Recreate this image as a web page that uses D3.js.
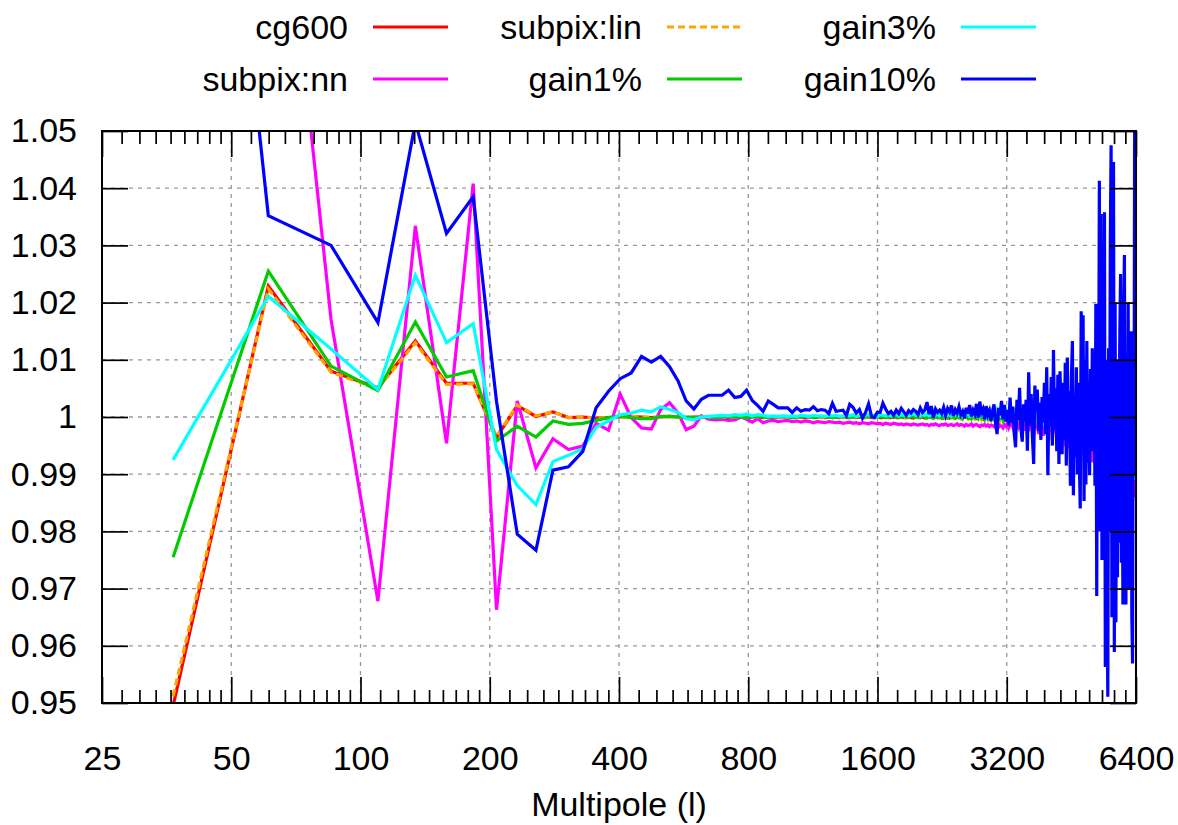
<!DOCTYPE html>
<html>
<head>
<meta charset="utf-8">
<script src="https://cdn.jsdelivr.net/npm/d3@7"></script>
<style>
  body { margin: 0; background: #fff; }
  text { font-family: "Liberation Sans", Arial, sans-serif; font-size: 34px; fill: #000; }
</style>
</head>
<body>
<script>
// multipole bins: centres start at 36.6, width 24.4
var ellStart = 36.6, ellStep = 24.4, nBins = 262;

var xTicks = [25, 50, 100, 200, 400, 800, 1600, 3200, 6400];
var yTicks = [0.95, 0.96, 0.97, 0.98, 0.99, 1.00, 1.01, 1.02, 1.03, 1.04, 1.05];

var names = ["cg600", "subpix:nn", "subpix:lin", "gain1%", "gain3%", "gain10%"];

var cg600 = [
  0.9495,1.0229,1.0080,1.0051,1.0133,1.0059,1.0059,0.9964,1.0020,1.0001,
  1.0009,0.9999,1.0000,0.9998,0.9999,1.0000,1.0001,1.0000,0.9999,1.0000,
  1.0001,1.0000,0.9999,1.0000,1.0000,0.9999,1.0000,1.0000,0.9999,1.0000,
  1.0000,0.9999,1.0000,1.0000,0.9999,1.0000,0.9999,1.0000,1.0000,0.9999,
  1.0000,0.9999,1.0000,0.9999,1.0000,1.0000,0.9999,1.0000,0.9999,1.0000,
  0.9999,1.0000,0.9999,1.0000,0.9999,0.9999,1.0000,0.9999,1.0000,0.9999,
  0.9999,1.0000,0.9999,0.9999,1.0000,0.9999,0.9999,1.0000,0.9999,0.9999,
  1.0000,0.9999,0.9999,1.0000,0.9999,0.9999,1.0000,0.9999,0.9998,1.0000,
  0.9999,0.9999,1.0000,0.9998,0.9999,1.0000,0.9999,0.9998,1.0000,0.9999,
  0.9999,1.0001,0.9998,0.9999,1.0000,0.9998,1.0001,0.9999,0.9998,1.0000,
  0.9999,1.0001,0.9998,1.0000,0.9999,1.0001,0.9998,1.0000,0.9999,1.0001,
  0.9998,1.0001,0.9999,1.0000,0.9997,1.0002,0.9999,1.0001,0.9998,1.0000,
  1.0002,0.9997,1.0001,0.9999,1.0002,0.9997,1.0001,0.9998,1.0003,0.9998,
  1.0001,0.9997,1.0003,0.9998,1.0002,0.9996,1.0004,0.9998,1.0002,0.9995,
  1.0003,0.9997,1.0005,0.9996,1.0002,0.9994,1.0005,0.9998,1.0003,0.9995,
  1.0006,0.9996,1.0003,0.9993,1.0007,0.9997,1.0004,0.9994,1.0006,0.9995,
  1.0008,0.9993,1.0004,0.9996,1.0009,0.9992,1.0005,0.9995,1.0010,0.9993,
  1.0006,0.9990,1.0011,0.9995,1.0007,0.9989,1.0012,0.9994,1.0008,0.9988,
  1.0014,0.9992,1.0009,0.9986,1.0015,0.9993,1.0010,0.9985,1.0017,0.9990,
  1.0012,0.9983,1.0019,0.9991,1.0014,0.9980,1.0021,0.9988,1.0015,0.9978,
  1.0024,0.9986,1.0017,0.9975,1.0026,0.9984,1.0019,0.9972,1.0029,0.9981,
  1.0022,0.9968,1.0032,0.9978,1.0025,0.9965,1.0035,0.9974,1.0028,0.9960,
  1.0038,0.9970,1.0031,0.9956,1.0042,0.9967,1.0034,0.9952,1.0045,0.9963,
  1.0037,0.9948,1.0049,0.9960,1.0040,0.9944,1.0052,0.9956,1.0044,0.9940,
  1.0056,0.9952,1.0047,0.9936,1.0060,0.9948,1.0051,0.9931,1.0064,0.9944,
  1.0055,0.9926,1.0068,0.9940,1.0058,0.9921,1.0072,0.9935,1.0062,0.9900,
  0.9860,0.9870
];

var subpixNN = [
  1.1000,1.1200,1.0170,0.9678,1.0334,0.9954,1.0408,0.9663,1.0028,0.9911,
  0.9962,0.9943,0.9949,0.9989,0.9977,1.0040,0.9999,0.9981,0.9979,1.0013,
  1.0025,1.0007,0.9978,0.9984,1.0002,0.9996,0.9995,0.9996,0.9994,0.9995,
  1.0000,0.9996,0.9991,0.9997,0.9990,0.9993,0.9994,0.9992,0.9993,0.9994,
  0.9992,0.9993,0.9991,0.9993,0.9992,0.9990,0.9992,0.9991,0.9990,0.9992,
  0.9991,0.9990,0.9991,0.9989,0.9990,0.9991,0.9989,0.9990,0.9988,0.9990,
  0.9989,0.9988,0.9990,0.9989,0.9988,0.9989,0.9987,0.9989,0.9988,0.9987,
  0.9989,0.9988,0.9987,0.9988,0.9986,0.9988,0.9987,0.9986,0.9988,0.9987,
  0.9986,0.9987,0.9988,0.9986,0.9987,0.9985,0.9987,0.9986,0.9988,0.9986,
  0.9985,0.9987,0.9986,0.9988,0.9985,0.9986,0.9987,0.9985,0.9986,0.9988,
  0.9985,0.9987,0.9986,0.9984,0.9987,0.9985,0.9986,0.9988,0.9984,0.9986,
  0.9987,0.9985,0.9983,0.9986,0.9985,0.9987,0.9984,0.9986,0.9983,0.9986,
  0.9985,0.9983,0.9987,0.9984,0.9982,0.9986,0.9984,0.9981,0.9987,0.9984,
  0.9988,0.9981,0.9986,0.9990,0.9982,0.9987,0.9979,0.9989,0.9983,0.9992,
  0.9980,0.9988,0.9976,0.9993,0.9983,0.9990,0.9975,0.9995,0.9981,0.9991,
  0.9972,0.9997,0.9980,0.9993,0.9970,1.0000,0.9978,0.9994,0.9967,1.0003,
  0.9976,0.9996,0.9964,1.0006,0.9974,0.9998,0.9960,1.0010,0.9972,0.9999,
  0.9957,1.0013,0.9970,1.0001,0.9953,1.0017,0.9967,1.0003,0.9949,1.0021,
  0.9965,1.0005,0.9945,1.0025,0.9962,1.0007,0.9941,1.0029,0.9960,1.0009,
  0.9937,1.0033,0.9957,1.0011,0.9933,1.0037,0.9955,1.0013,0.9929,1.0041,
  0.9952,1.0015,0.9925,1.0045,0.9950,1.0017,0.9921,1.0049,0.9947,1.0019,
  0.9917,1.0053,0.9945,1.0021,0.9913,1.0057,0.9942,1.0023,0.9909,1.0061,
  0.9940,1.0025,0.9905,1.0065,0.9937,1.0027,0.9901,1.0069,0.9935,1.0029,
  0.9897,1.0073,0.9932,1.0031,0.9893,1.0077,0.9930,1.0100,0.9889,1.0130,
  0.9927,1.0120,0.9885,1.0105,0.9925,1.0128,0.9881,1.0110,0.9922,1.0045,
  0.9877,1.0090,0.9920,1.0040,0.9873,1.0085,0.9917,1.0035,0.9869,0.9985,
  0.9870,0.9865
];

var subpixLin = [
  0.9512,1.0224,1.0078,1.0050,1.0130,1.0057,1.0058,0.9966,1.0021,1.0002,
  1.0009,0.9999,1.0000,0.9998,0.9999,1.0000,1.0001,1.0000,0.9999,1.0000,
  1.0001,1.0000,0.9999,1.0000,1.0000,0.9999,1.0000,1.0000,0.9999,1.0000,
  1.0000,0.9999,1.0000,1.0000,0.9999,1.0000,0.9999,1.0000,1.0000,0.9999,
  1.0000,0.9999,1.0000,1.0000,1.0000,0.9999,1.0000,0.9999,1.0000,1.0000,
  0.9999,1.0000,1.0000,0.9999,1.0000,0.9999,1.0000,1.0000,0.9999,1.0000,
  0.9999,1.0000,1.0000,0.9999,1.0000,0.9999,1.0000,0.9999,1.0000,1.0000,
  0.9999,1.0000,1.0001,0.9999,1.0000,0.9998,1.0001,0.9999,1.0000,1.0001,
  0.9999,1.0000,0.9998,1.0001,0.9999,1.0000,1.0002,0.9998,1.0000,1.0001,
  0.9998,1.0001,1.0000,0.9998,1.0002,0.9999,1.0000,0.9998,1.0002,0.9999,
  1.0001,0.9997,1.0002,0.9999,1.0001,0.9997,1.0003,0.9999,1.0000,0.9997,
  1.0003,0.9998,1.0002,0.9996,1.0003,0.9999,1.0002,0.9996,1.0004,0.9998,
  1.0001,0.9995,1.0004,0.9999,1.0002,0.9995,1.0005,0.9997,1.0003,0.9994,
  1.0006,0.9997,1.0003,0.9993,1.0006,0.9998,1.0004,0.9992,1.0007,0.9996,
  1.0004,0.9991,1.0008,0.9995,1.0005,0.9990,1.0009,0.9996,1.0006,0.9988,
  1.0011,0.9994,1.0007,0.9987,1.0012,0.9995,1.0008,0.9985,1.0014,0.9992,
  1.0009,0.9983,1.0016,0.9993,1.0011,0.9981,1.0018,0.9990,1.0013,0.9978,
  1.0021,0.9988,1.0015,0.9975,1.0023,0.9987,1.0017,0.9972,1.0026,0.9984,
  1.0019,0.9969,1.0029,0.9982,1.0022,0.9966,1.0032,0.9980,1.0024,0.9962,
  1.0035,0.9977,1.0027,0.9959,1.0038,0.9975,1.0030,0.9955,1.0041,0.9972,
  1.0033,0.9951,1.0044,0.9969,1.0036,0.9947,1.0048,0.9966,1.0039,0.9943,
  1.0051,0.9963,1.0042,0.9939,1.0055,0.9960,1.0045,0.9935,1.0058,0.9957,
  1.0048,0.9931,1.0062,0.9954,1.0051,0.9927,1.0065,0.9950,1.0054,0.9922,
  1.0069,0.9947,1.0057,0.9918,1.0072,0.9944,1.0060,0.9914,1.0076,0.9941,
  1.0063,0.9910,1.0079,0.9938,1.0066,0.9905,1.0083,0.9934,1.0069,0.9901,
  1.0086,0.9931,1.0072,0.9897,1.0090,0.9928,1.0075,0.9893,1.0093,0.9925,
  1.0078,0.9889
];

var gain1 = [
  0.9755,1.0255,1.0089,1.0046,1.0166,1.0070,1.0081,0.9958,0.9984,0.9965,
  0.9993,0.9987,0.9989,0.9994,0.9999,1.0002,0.9999,0.9997,0.9997,1.0001,
  1.0001,1.0000,1.0000,0.9999,1.0000,1.0000,0.9999,1.0000,1.0001,1.0000,
  1.0000,0.9999,1.0000,1.0001,1.0000,0.9999,1.0000,1.0000,1.0001,1.0000,
  0.9999,1.0000,1.0000,1.0001,1.0000,0.9999,1.0000,1.0001,1.0000,1.0000,
  0.9999,1.0000,1.0001,1.0000,1.0000,0.9999,1.0000,1.0001,1.0000,0.9999,
  1.0000,1.0001,1.0000,0.9999,1.0000,1.0001,1.0000,0.9999,1.0001,1.0000,
  0.9999,1.0001,1.0000,0.9999,1.0001,1.0000,0.9999,1.0002,1.0000,0.9999,
  1.0001,0.9999,1.0002,1.0000,0.9998,1.0001,1.0000,0.9998,1.0002,0.9999,
  1.0001,0.9998,1.0002,1.0000,0.9998,1.0002,0.9999,1.0001,0.9998,1.0003,
  0.9999,1.0001,0.9997,1.0003,1.0000,0.9998,1.0002,0.9997,1.0003,0.9999,
  1.0001,0.9997,1.0004,0.9999,1.0002,0.9996,1.0004,0.9998,1.0002,0.9996,
  1.0005,0.9998,1.0003,0.9995,1.0005,0.9999,1.0003,0.9995,1.0006,0.9998,
  1.0003,0.9994,1.0007,0.9997,1.0004,0.9993,1.0007,0.9997,1.0005,0.9992,
  1.0008,0.9996,1.0005,0.9991,1.0009,0.9996,1.0006,0.9990,1.0010,0.9995,
  1.0007,0.9989,1.0011,0.9994,1.0007,0.9988,1.0012,0.9993,1.0008,0.9986,
  1.0013,0.9992,1.0009,0.9985,1.0014,0.9991,1.0010,0.9984,1.0015,0.9990,
  1.0011,0.9982,1.0017,0.9989,1.0012,0.9981,1.0018,0.9988,1.0013,0.9979,
  1.0019,0.9987,1.0014,0.9978,1.0021,0.9986,1.0015,0.9976,1.0022,0.9985,
  1.0016,0.9975,1.0023,0.9984,1.0017,0.9973,1.0025,0.9983,1.0018,0.9972,
  1.0026,0.9982,1.0019,0.9970,1.0027,0.9981,1.0020,0.9969,1.0029,0.9980,
  1.0021,0.9967,1.0030,0.9979,1.0022,0.9966,1.0031,0.9978,1.0023,0.9964,
  1.0033,0.9977,1.0024,0.9963,1.0034,0.9976,1.0025,0.9961,1.0035,0.9975,
  1.0026,0.9960,1.0037,0.9974,1.0027,0.9958,1.0038,0.9973,1.0028,0.9957,
  1.0039,0.9972,1.0029,0.9955,1.0041,0.9971,1.0030,0.9954,1.0042,0.9970,
  1.0031,0.9952,1.0043,0.9969,1.0032,0.9951,1.0045,0.9968,1.0033,0.9949,
  1.0046,0.9967
];

var gain3 = [
  0.9925,1.0211,1.0119,1.0048,1.0248,1.0130,1.0163,0.9943,0.9880,0.9847,
  0.9922,0.9933,0.9945,0.9982,0.9993,1.0004,1.0007,1.0012,1.0009,1.0018,
  1.0013,1.0008,0.9997,0.9995,1.0000,1.0001,1.0002,1.0003,1.0002,1.0004,
  1.0003,1.0005,1.0002,1.0004,1.0003,1.0001,1.0002,1.0001,1.0002,1.0001,
  1.0002,1.0001,1.0003,1.0002,1.0001,1.0003,1.0002,1.0002,1.0001,1.0003,
  1.0002,1.0003,1.0001,1.0002,1.0003,1.0002,1.0004,1.0001,1.0003,1.0002,
  1.0003,1.0004,1.0002,1.0003,1.0001,1.0004,1.0003,1.0002,1.0004,1.0002,
  1.0003,1.0005,1.0002,1.0004,1.0003,1.0005,1.0002,1.0004,1.0006,1.0003,
  1.0004,1.0002,1.0005,1.0003,1.0006,1.0002,1.0004,1.0005,1.0003,1.0006,
  1.0002,1.0005,1.0004,1.0007,1.0003,1.0005,1.0002,1.0006,1.0004,1.0007,
  1.0003,1.0006,1.0002,1.0007,1.0004,1.0008,1.0002,1.0006,1.0003,1.0008,
  1.0004,1.0009,1.0002,1.0007,1.0003,1.0009,1.0001,1.0008,1.0004,1.0010,
  1.0002,1.0008,1.0000,1.0011,1.0003,1.0009,0.9999,1.0012,1.0002,1.0010,
  0.9998,1.0013,1.0001,1.0011,0.9996,1.0015,1.0000,1.0012,0.9995,1.0016,
  0.9998,1.0014,0.9993,1.0018,0.9997,1.0015,0.9991,1.0020,0.9995,1.0017,
  0.9989,1.0022,0.9994,1.0019,0.9986,1.0025,0.9992,1.0021,0.9984,1.0027,
  0.9990,1.0023,0.9981,1.0030,0.9988,1.0025,0.9978,1.0033,0.9986,1.0028,
  0.9975,1.0036,0.9983,1.0030,0.9972,1.0039,0.9981,1.0033,0.9968,1.0042,
  0.9978,1.0035,0.9965,1.0045,0.9975,1.0038,0.9961,1.0048,0.9972,1.0040,
  0.9957,1.0052,0.9969,1.0043,0.9953,1.0055,0.9966,1.0045,0.9949,1.0058,
  0.9963,1.0048,0.9945,1.0062,0.9960,1.0050,0.9941,1.0065,0.9957,1.0053,
  0.9937,1.0066,0.9954,1.0060,0.9933,1.0055,0.9951,1.0062,0.9929,1.0058,
  0.9948,1.0064,0.9925,1.0060,0.9945,1.0066,0.9921,1.0062,0.9942,1.0068,
  0.9917,1.0064,0.9939,1.0070,0.9913,1.0066,0.9936,1.0072,0.9909,1.0068,
  0.9933,1.0074,0.9905,1.0070,0.9930,1.0076,0.9901,1.0072,0.9927,1.0078,
  0.9897,1.0074,0.9924,1.0080,0.9893,1.0076,0.9921,1.0082,0.9889,1.0078,
  0.9918,1.0060
];

var gain10 = [
  1.1900,1.0352,1.0300,1.0165,1.0515,1.0321,1.0385,1.0027,0.9795,0.9767,
  0.9907,0.9913,0.9940,1.0016,1.0045,1.0067,1.0077,1.0106,1.0096,1.0106,
  1.0088,1.0063,1.0028,1.0014,1.0031,1.0038,1.0038,1.0038,1.0047,1.0034,
  1.0036,1.0047,1.0029,1.0020,1.0010,1.0028,1.0022,1.0016,1.0016,1.0016,
  1.0008,1.0016,1.0010,1.0013,1.0012,1.0018,1.0011,1.0013,1.0012,1.0006,
  1.0024,1.0010,1.0011,1.0012,1.0003,1.0022,1.0017,1.0007,1.0013,0.9998,
  1.0008,1.0023,1.0001,0.9999,1.0008,1.0008,1.0024,1.0014,1.0006,1.0010,
  1.0003,1.0012,1.0006,1.0015,1.0009,1.0003,1.0011,1.0007,1.0013,1.0010,
  1.0004,1.0016,1.0008,1.0012,1.0026,1.0005,1.0019,0.9999,1.0014,1.0008,
  1.0012,1.0006,1.0017,1.0003,1.0015,1.0009,1.0020,1.0002,1.0013,1.0007,
  1.0018,1.0004,1.0010,0.9998,1.0016,1.0006,1.0021,1.0001,1.0012,1.0005,
  1.0023,0.9999,1.0027,1.0008,1.0014,0.9996,1.0019,1.0004,1.0011,0.9993,
  1.0009,1.0022,0.9990,0.9970,1.0016,1.0003,1.0028,0.9996,1.0021,0.9992,
  1.0012,0.9985,1.0034,0.9990,1.0018,0.9972,0.9947,1.0030,0.9995,1.0051,
  0.9980,0.9957,1.0022,0.9992,1.0030,0.9941,1.0078,0.9985,1.0040,0.9965,
  0.9918,1.0055,1.0010,1.0048,0.9975,1.0025,0.9960,1.0035,0.9990,1.0060,
  0.9970,1.0087,0.9898,1.0040,0.9985,1.0070,0.9950,1.0117,0.9977,1.0050,
  0.9940,1.0074,0.9918,1.0080,1.0010,0.9935,1.0060,0.9960,1.0095,0.9915,
  1.0104,0.9955,1.0045,0.9880,1.0070,1.0133,0.9863,1.0040,0.9930,1.0087,
  0.9900,1.0060,0.9925,0.9840,1.0185,0.9970,1.0178,0.9853,1.0100,0.9882,
  1.0133,0.9920,1.0060,0.9898,1.0084,0.9940,1.0120,0.9960,1.0040,0.9880,
  1.0198,0.9687,1.0150,0.9900,1.0413,0.9800,1.0355,0.9750,1.0250,0.9850,
  1.0358,0.9563,1.0100,0.9700,0.9511,1.0120,0.9800,1.0300,1.0475,0.9650,
  0.9716,1.0446,0.9589,1.0200,0.9641,1.0100,0.9720,1.0050,0.9780,1.0150,
  1.0250,0.9745,1.0080,0.9672,1.0180,1.0283,0.9850,0.9672,1.0100,0.9800,
  1.0200,0.9700,1.0050,0.9850,1.0150,0.9650,0.9569,1.0100,0.9900,1.0600,
  0.9950,1.0050
];

var colors = ["#ff0000", "#ff00ff", "#ffa500", "#00cc00", "#00ffff", "#0000ff"];

var ell = d3.range(nBins).map(function(k) { return ellStart + ellStep * k; });

var series = [
  { name: names[0], values: cg600,     color: colors[0], dash: null,  col: 0, row: 0 },
  { name: names[1], values: subpixNN,  color: colors[1], dash: null,  col: 0, row: 1 },
  { name: names[2], values: subpixLin, color: colors[2], dash: "7,4", col: 1, row: 0 },
  { name: names[3], values: gain1,     color: colors[3], dash: null,  col: 1, row: 1 },
  { name: names[4], values: gain3,     color: colors[4], dash: null,  col: 2, row: 0 },
  { name: names[5], values: gain10,    color: colors[5], dash: null,  col: 2, row: 1 }
];

var width = 1178,
    height = 825;
var plotLeft = 102, plotRight = 1136, plotTop = 131, plotBottom = 703;

var x = d3.scaleLog().base(2).domain([25, 6400]).range([plotLeft, plotRight]);
var y = d3.scaleLinear().domain([0.95, 1.05]).range([plotBottom, plotTop]);

var svg = d3.select("body").append("svg")
    .attr("width", width)
    .attr("height", height);

// grid
var grid = svg.append("g")
    .attr("stroke", "#999")
    .attr("stroke-width", 1.3)
    .attr("stroke-dasharray", "4,5");

grid.selectAll("line.gx")
    .data(xTicks.slice(1, -1))
  .enter().append("line")
    .attr("class", "gx")
    .attr("x1", function(d) { return x(d); })
    .attr("x2", function(d) { return x(d); })
    .attr("y1", plotTop)
    .attr("y2", plotBottom);

grid.selectAll("line.gy")
    .data(yTicks.slice(1, -1))
  .enter().append("line")
    .attr("class", "gy")
    .attr("x1", plotLeft)
    .attr("x2", plotRight)
    .attr("y1", function(d) { return y(d); })
    .attr("y2", function(d) { return y(d); });

// data
svg.append("clipPath").attr("id", "plot-clip")
  .append("rect")
    .attr("x", plotLeft).attr("y", plotTop)
    .attr("width", plotRight - plotLeft).attr("height", plotBottom - plotTop);

var line = d3.line()
    .x(function(d, i) { return x(ell[i]); })
    .y(function(d) { return y(d); });

svg.append("g")
    .attr("clip-path", "url(#plot-clip)")
  .selectAll("path")
    .data(series)
  .enter().append("path")
    .attr("d", function(s) { return line(s.values); })
    .attr("fill", "none")
    .attr("stroke", function(s) { return s.color; })
    .attr("stroke-width", 3.2)
    .attr("stroke-linejoin", "miter")
    .attr("stroke-dasharray", function(s) { return s.dash; });

// axes
var minorTicks = [];
xTicks.slice(0, -1).forEach(function(b) {
  for (var k = 1; k <= 8; k++) minorTicks.push(b * (1 + k / 9));
});

function styleAxis(g) {
  g.select(".domain").remove();
  g.selectAll(".tick line").attr("stroke", "#000").attr("stroke-width", 1.7);
  g.selectAll(".tick text")
    .attr("font-family", "Liberation Sans, Arial, sans-serif")
    .attr("font-size", 32)
    .attr("fill", "#000");
}

svg.append("g")
    .attr("transform", "translate(0," + plotBottom + ")")
    .call(d3.axisBottom(x).tickValues(xTicks).tickSize(-26).tickPadding(43)
      .tickFormat(function(d) { return d; }))
    .call(styleAxis);

svg.append("g")
    .attr("transform", "translate(0," + plotBottom + ")")
    .call(d3.axisBottom(x).tickValues(minorTicks).tickSize(-13).tickFormat(""))
    .call(styleAxis);

svg.append("g")
    .attr("transform", "translate(0," + plotTop + ")")
    .call(d3.axisTop(x).tickValues(xTicks).tickSize(-26).tickFormat(""))
    .call(styleAxis);

svg.append("g")
    .attr("transform", "translate(0," + plotTop + ")")
    .call(d3.axisTop(x).tickValues(minorTicks).tickSize(-13).tickFormat(""))
    .call(styleAxis);

svg.append("g")
    .attr("transform", "translate(" + plotLeft + ",0)")
    .call(d3.axisLeft(y).tickValues(yTicks).tickSize(-26).tickPadding(25)
      .tickFormat(function(d) { return Math.abs(d - 1) < 1e-9 ? "1" : d.toFixed(2); }))
    .call(styleAxis);

svg.append("g")
    .attr("transform", "translate(" + plotRight + ",0)")
    .call(d3.axisRight(y).tickValues(yTicks).tickSize(-26).tickFormat(""))
    .call(styleAxis);

// frame
svg.append("rect")
    .attr("x", plotLeft).attr("y", plotTop)
    .attr("width", plotRight - plotLeft).attr("height", plotBottom - plotTop)
    .attr("fill", "none")
    .attr("stroke", "#000")
    .attr("stroke-width", 2);

// x label
svg.append("text")
    .attr("x", (plotLeft + plotRight) / 2)
    .attr("y", 816)
    .attr("text-anchor", "middle")
    .text("Multipole (l)");

// legend
var legend = svg.selectAll("g.key")
    .data(series)
  .enter().append("g")
    .attr("class", "key")
    .attr("transform", function(s) {
      return "translate(" + (294 * s.col) + "," + (27 + 52 * s.row) + ")";
    });

legend.append("text")
    .attr("x", 348)
    .attr("dy", "0.35em")
    .attr("text-anchor", "end")
    .text(function(s) { return s.name; });

legend.append("line")
    .attr("x1", 373)
    .attr("x2", 448)
    .attr("stroke", function(s) { return s.color; })
    .attr("stroke-width", 3.2)
    .attr("stroke-dasharray", function(s) { return s.dash; });
</script>
</body>
</html>
